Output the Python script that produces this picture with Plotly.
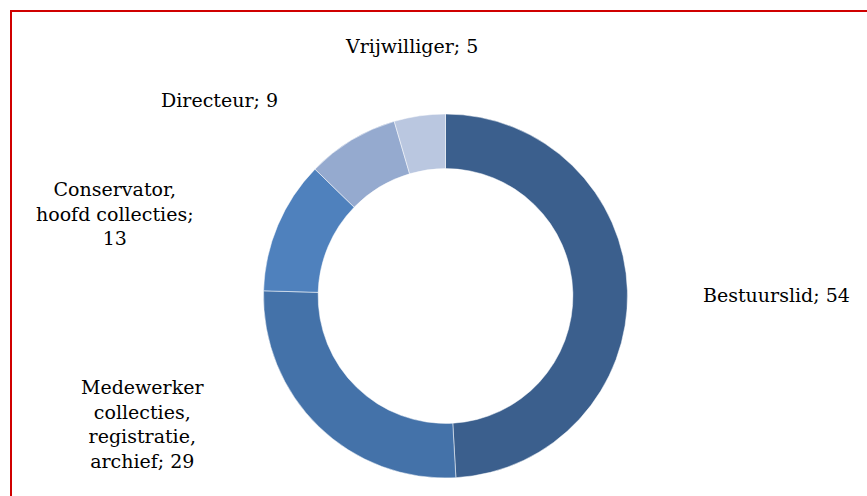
import plotly.graph_objects as go

labels = ["Bestuurslid", "Medewerker collecties, registratie, archief",
          "Conservator, hoofd collecties", "Directeur", "Vrijwilliger"]
values = [54, 29, 13, 9, 5]
colors = ["#3B5F8D", "#4472A9", "#4F81BD", "#95AACF", "#BAC7E0"]

# wrapped text as in the original chart, per label
label_lines = {
    "Bestuurslid": "Bestuurslid",
    "Medewerker collecties, registratie, archief": "Medewerker<br>collecties,<br>registratie,<br>archief",
    "Conservator, hoofd collecties": "Conservator,<br>hoofd collecties;<br>",
    "Directeur": "Directeur",
    "Vrijwilliger": "Vrijwilliger",
}
# label centre positions in pixels (x, y from top)
label_pos = {
    "Bestuurslid": (776, 295),
    "Medewerker collecties, registratie, archief": (142, 424),
    "Conservator, hoofd collecties": (115, 214),
    "Directeur": (219, 100),
    "Vrijwilliger": (411, 46),
}

W, H = 867, 496

fig = go.Figure()
fig.add_trace(go.Pie(
    labels=labels,
    values=values,
    hole=0.70,
    sort=False,
    direction="clockwise",
    rotation=0,
    marker=dict(colors=colors, line=dict(color="white", width=0.5)),
    textinfo="none",
    hoverinfo="label+value",
    domain=dict(x=[263 / W, 628 / W], y=[(H - 478) / H, (H - 114) / H]),
    showlegend=False,
))

for lab, val in zip(labels, values):
    txt = label_lines[lab]
    if txt.endswith("<br>"):
        txt = txt + str(val)
    else:
        txt = txt + "; " + str(val)
    x, y = label_pos[lab]
    fig.add_annotation(
        x=x / W, y=1 - y / H, xref="paper", yref="paper",
        text=txt, showarrow=False, align="center",
        xanchor="center", yanchor="middle",
        font=dict(family="DejaVu Serif", size=19, color="#000000"),
    )

# red frame (left, top, right edges visible)
fig.add_shape(type="rect", xref="paper", yref="paper",
              x0=11 / W, x1=1.01, y0=-0.05, y1=1 - 11 / H,
              line=dict(color="#D00000", width=2), fillcolor="rgba(0,0,0,0)")

fig.update_layout(
    width=W, height=H,
    margin=dict(l=0, r=0, t=0, b=0),
    paper_bgcolor="white",
    plot_bgcolor="white",
)

fig.write_html("out.html", config={"displayModeBar": False},
               post_script="document.body.style.margin='0px';")
